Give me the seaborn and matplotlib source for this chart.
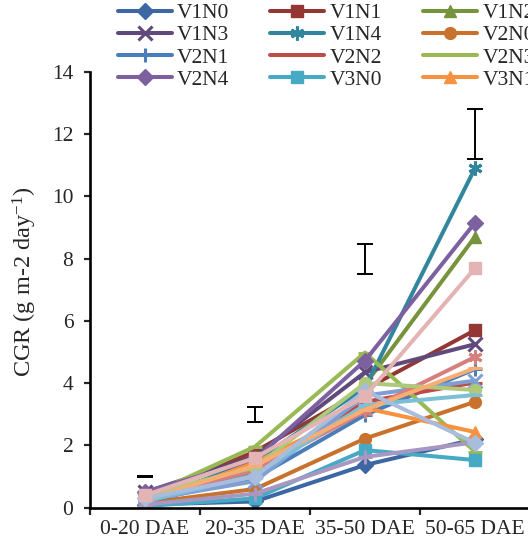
import matplotlib
matplotlib.use("Agg")
import matplotlib.pyplot as plt
import seaborn as sns
import pandas as pd

categories = ["0-20 DAE", "20-35 DAE", "35-50 DAE", "50-65 DAE"]
series_names = ["V1N0", "V1N1", "V1N2", "V1N3", "V1N4",
                "V2N0", "V2N1", "V2N2", "V2N3", "V2N4",
                "V3N0", "V3N1", "V3N2", "V3N3", "V3N4",
                "V4N0", "V4N1", "V4N2", "V4N3", "V4N4"]

V1N0 = [0.10, 0.20, 1.37, 2.20]
V1N1 = [0.35, 1.80, 3.80, 5.70]
V1N2 = [0.30, 1.40, 3.95, 8.70]
V1N3 = [0.50, 1.65, 4.35, 5.25]
V1N4 = [0.20, 1.50, 3.85, 10.90]
V2N0 = [0.15, 0.60, 2.22, 3.40]
V2N1 = [0.20, 0.95, 2.98, 4.45]
V2N2 = [0.30, 1.15, 3.40, 4.02]
V2N3 = [0.35, 1.96, 4.98, 1.80]
V2N4 = [0.50, 1.55, 4.72, 9.15]
V3N0 = [0.05, 0.30, 1.85, 1.53]
V3N1 = [0.15, 1.45, 3.20, 2.43]
V3N2 = [0.25, 0.85, 3.60, 4.08]
V3N3 = [0.30, 1.20, 3.10, 4.84]
V3N4 = [0.40, 1.30, 4.00, 3.78]
V4N0 = [0.10, 0.45, 1.63, 2.10]
V4N1 = [0.20, 1.05, 3.30, 3.62]
V4N2 = [0.25, 1.35, 3.15, 4.48]
V4N3 = [0.30, 1.00, 3.75, 2.08]
V4N4 = [0.40, 1.60, 3.58, 7.69]

values = [V1N0, V1N1, V1N2, V1N3, V1N4, V2N0, V2N1, V2N2, V2N3, V2N4,
          V3N0, V3N1, V3N2, V3N3, V3N4, V4N0, V4N1, V4N2, V4N3, V4N4]

err_center = [1.0, 3.0, 8.0, 12.0]
err_half = [0.03, 0.24, 0.48, 0.80]

colors = ["#3C67A3", "#943634", "#77933C", "#604A7B", "#31859C",
          "#C8722E", "#4A7EBB", "#BE4B48", "#98B954", "#7D60A0",
          "#46AAC5", "#F69240", "#7F9FD3", "#D5807E", "#AFC97A",
          "#A897C1", "#7BC0D6", "#F9AD72", "#A8BDDD", "#E3B4B3"]
asterisk = (6, 2, 0)
markers = ["D", "s", "^", "x", asterisk, "o", "+", "_", "_", "D",
           "s", "^", "x", asterisk, "o", "+", "_", "_", "D", "s"]

sns.set_style("ticks")
plt.rcParams["font.family"] = ["Liberation Serif", "DejaVu Serif"]
plt.rcParams["mathtext.fontset"] = "custom"
plt.rcParams["mathtext.rm"] = "Liberation Serif"
plt.rcParams["mathtext.it"] = "Liberation Serif:italic"

fig = plt.figure(figsize=(5.28, 5.45), dpi=100)
ax = fig.add_axes([90 / 528, 1 - 507.7 / 545, 440 / 528, 436 / 545])

for name, vals, col, mk in zip(series_names, values, colors, markers):
    df = pd.DataFrame({"cat": categories, "val": vals})
    line_marker = mk in ("x", "+", "_", asterisk)
    sns.lineplot(data=df, x="cat", y="val", ax=ax, color=col, lw=2.9,
                 marker=mk, markersize=10 if line_marker else 8.5,
                 markeredgewidth=2.2 if line_marker else 1,
                 markeredgecolor=col, markerfacecolor=col,
                 label=name, sort=False, errorbar=None)

ax.errorbar(categories, err_center, yerr=err_half, fmt="none",
            ecolor="black", elinewidth=1.4, capsize=6, capthick=1.4, zorder=30)

ax.set_xlim(-0.5, 3.5)
ax.set_ylim(0, 14)
ax.set_yticks(range(0, 15, 2))
ax.set_xticks(range(4))
ax.set_xticklabels(categories)
ax.set_xticks([-0.5, 0.5, 1.5, 2.5, 3.5], minor=True)
ax.tick_params(axis="x", which="major", length=0, pad=9, labelsize=15.5)
ax.tick_params(axis="x", which="minor", length=5, width=1.6, direction="out")
ax.tick_params(axis="y", length=4, width=1.6, direction="out", pad=8, labelsize=15.5)
for s in ["top", "right"]:
    ax.spines[s].set_visible(False)
for s in ["left", "bottom"]:
    ax.spines[s].set_linewidth(1.9)
    ax.spines[s].set_color("black")
ax.set_xlabel("")
ax.set_ylabel("CGR (g m-2 day$^{-1}$)", fontsize=17.5)
ax.yaxis.label.set_va("center")
ax.yaxis.set_label_coords(-0.148, 0.518)

handles, labels = ax.get_legend_handles_labels()
ax.get_legend().remove()
hmap = dict(zip(labels, handles))
shown = series_names[:12]
order = [shown[r * 3 + c] for c in range(3) for r in range(4)]
fig.legend([hmap[n] for n in order], order, ncol=3, loc="upper left",
           bbox_to_anchor=(118 / 528, 1 - 3 / 545), frameon=False,
           fontsize=15.5, handlelength=2.5, handletextpad=0.25,
           columnspacing=1.9, labelspacing=0.1, borderpad=0, borderaxespad=0)

fig.savefig("out.png", dpi=100)
